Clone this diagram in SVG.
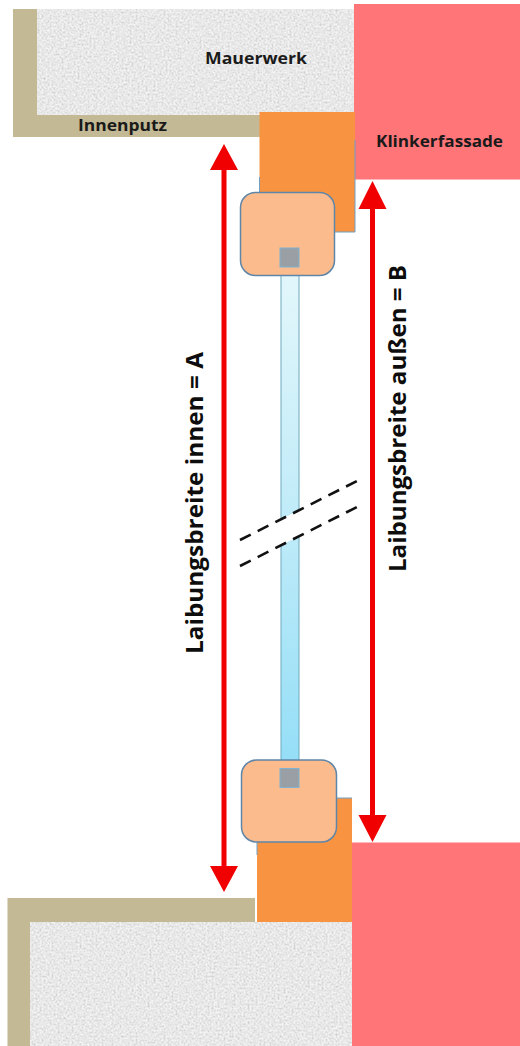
<svg xmlns="http://www.w3.org/2000/svg" width="520" height="1046" viewBox="0 0 520 1046">
<style>
.plaster{fill:#c3b994}
.brick{fill:#ff7578}
.wood{fill:#f89441}
.edge{fill:none;stroke:#6f9fc4;stroke-width:1}
.frame{fill:#fbbb8c;stroke:#5f86a8;stroke-width:1.5}
.seal{fill:#9a9fa6;stroke:#7fb2cf;stroke-width:1}
.arrow{fill:#f00000}
.dash{stroke:#111;stroke-width:2.6;stroke-dasharray:12 7.800;fill:none}
.label{font-family:"Open Sans","Liberation Sans",sans-serif;font-weight:700;fill:#1a1a1a;font-size:16.500px}
.dim{font-family:"Open Sans","Liberation Sans",sans-serif;font-weight:700;fill:#0d0d0d;font-size:24px}
</style>
<defs>
<filter id="grain" x="0" y="0" width="100%" height="100%">
<feTurbulence type="fractalNoise" baseFrequency="0.5" numOctaves="3" seed="7"/>
<feColorMatrix type="matrix" values="0 0 0 0 0.55  0 0 0 0 0.55  0 0 0 0 0.55  1.1 1.1 0 0 -0.85"/>
<feComposite in2="SourceGraphic" operator="in" result="n"/>
<feMerge><feMergeNode in="SourceGraphic"/><feMergeNode in="n"/></feMerge>
</filter>
<linearGradient id="glass" x1="0" y1="0" x2="0" y2="1">
<stop offset="0" stop-color="#e4f7fb"/>
<stop offset="0.5" stop-color="#c0ebf8"/>
<stop offset="1" stop-color="#93def7"/>
</linearGradient>
</defs>
<rect width="520" height="1046" fill="#fff"/>
<g id="mauerwerk-oben"><rect x="37" y="9" width="317" height="106" fill="#f3f3f3" filter="url(#grain)"/></g>
<g id="innenputz-oben"><path class="plaster" d="M13 9H37V115H260V137H13Z"/></g>
<g id="klinker-oben"><rect class="brick" x="354" y="4" width="166" height="175.500"/></g>
<g id="holz-oben"><path class="wood" d="M259.500 112H355V232H259.500Z"/><path class="edge" d="M259.500 177V193M355 140V232H335"/></g>
<g id="mauerwerk-unten"><rect x="30" y="922" width="322" height="124" fill="#f3f3f3" filter="url(#grain)"/></g>
<g id="innenputz-unten"><path class="plaster" d="M7.500 898H255V922H30V1046H7.500Z"/></g>
<g id="holz-unten"><path class="wood" d="M257 798H352V922H257Z"/><path class="edge" d="M257 842V855M337 798H352"/></g>
<g id="klinker-unten"><rect class="brick" x="352" y="842.500" width="168" height="203.500"/></g>
<g id="glas"><rect x="281" y="262" width="18" height="510" fill="url(#glass)" stroke="#6fa9bd" stroke-width="1"/></g>
<g id="rahmen-oben"><rect class="frame" x="240.500" y="192.500" width="94" height="83" rx="15"/><rect class="seal" x="280" y="248" width="19" height="19"/></g>
<g id="rahmen-unten"><rect class="frame" x="241.500" y="760" width="95" height="82" rx="15"/><rect class="seal" x="280" y="768.500" width="19" height="19"/></g>
<g id="connectors">
<polygon fill="#fff" points="240,540 357,481 357,507 240,566"/>
<path class="dash" d="M240 540L357 481"/>
<path class="dash" d="M240 566L357 507"/>
<path class="arrow" d="M224 144L238 170H226.500V866H238L224 892L210 866H221.500V170H210Z"/>
<path class="arrow" d="M372.500 181L386.500 209H375V815H386.500L372.500 842L358.500 815H370V209H358.500Z"/>
</g>
<g id="labels">
<text class="label" x="205" y="64" textLength="102" lengthAdjust="spacingAndGlyphs">Mauerwerk</text>
<text class="label" x="78" y="131" textLength="89" lengthAdjust="spacingAndGlyphs">Innenputz</text>
<text class="label" x="376" y="147" textLength="127" lengthAdjust="spacingAndGlyphs">Klinkerfassade</text>
<text class="dim" transform="translate(203 654) rotate(-90)" textLength="302" lengthAdjust="spacingAndGlyphs">Laibungsbreite innen = A</text>
<text class="dim" transform="translate(406 572) rotate(-90)" textLength="307" lengthAdjust="spacingAndGlyphs">Laibungsbreite außen = B</text>
</g>
</svg>
